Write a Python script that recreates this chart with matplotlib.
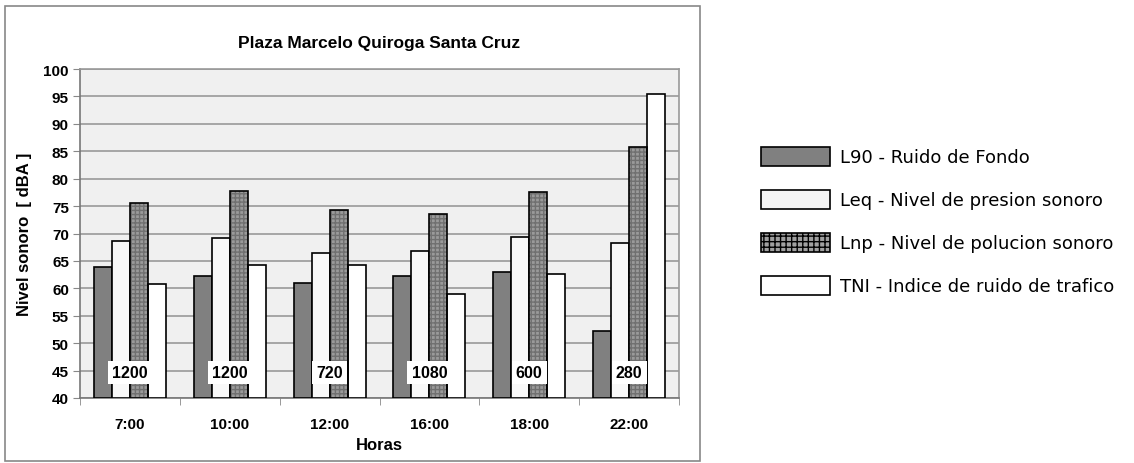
import numpy as np
import matplotlib
matplotlib.use("Agg")
import matplotlib.pyplot as plt
from matplotlib.patches import Rectangle, Patch

plt.rcParams['font.family'] = ['Liberation Sans', 'DejaVu Sans']

horas = ['7:00', '10:00', '12:00', '16:00', '18:00', '22:00']
vehiculos = ['1200', '1200', '720', '1080', '600', '280']
l90 = [63.8, 62.2, 61.0, 62.2, 63.0, 52.3]
leq = [68.7, 69.2, 66.5, 66.8, 69.3, 68.2]
lnp = [75.5, 77.8, 74.2, 73.5, 77.5, 85.8]
tni = [60.8, 64.2, 64.2, 59.0, 62.7, 95.5]

labels = ['L90 - Ruido de Fondo', 'Leq - Nivel de presion sonoro',
          'Lnp - Nivel de polucion sonoro', 'TNI - Indice de ruido de trafico']

fig = plt.figure(figsize=(11.34, 4.64), dpi=100)
fig.patches.append(Rectangle((5 / 1134, 2 / 464), 695 / 1134, 455 / 464,
                             transform=fig.transFigure, fill=False,
                             edgecolor='#888888', linewidth=1.2))

ax = fig.add_axes([80 / 1134, 1 - 399 / 464, 599 / 1134, 329 / 464])
ax.set_facecolor('#f0f0f0')

x = np.arange(len(horas))
w = 0.18
offs = np.array([-1.5, -0.5, 0.5, 1.5]) * w

ax.bar(x + offs[0], np.array(l90) - 40, w, bottom=40, color='#808080',
       edgecolor='black', linewidth=1.2, zorder=3)
ax.bar(x + offs[1], np.array(leq) - 40, w, bottom=40, color='#f8f8f8',
       edgecolor='black', linewidth=1.2, zorder=3)
# Lnp: hatch drawn in grey, then outline in black
ax.bar(x + offs[2], np.array(lnp) - 40, w, bottom=40, color='#9a9a9a',
       edgecolor='#707070', hatch='++++', linewidth=0, zorder=3)
ax.bar(x + offs[2], np.array(lnp) - 40, w, bottom=40, fill=False,
       edgecolor='black', linewidth=1.2, zorder=4)
ax.bar(x + offs[3], np.array(tni) - 40, w, bottom=40, color='white',
       edgecolor='black', linewidth=1.2, zorder=3)

for xi, v in zip(x, vehiculos):
    ax.text(xi, 44.7, v, ha='center', va='center', fontsize=11.5,
            fontweight='bold', zorder=5,
            bbox=dict(facecolor='white', edgecolor='none', pad=3))

ax.set_ylim(40, 100)
ax.set_yticks(range(40, 101, 5))
ax.set_xlim(-0.5, len(horas) - 0.5)
ax.set_xticks(x)
ax.set_xticklabels(horas)
ax.set_xticks(np.arange(-0.5, len(horas), 1), minor=True)
ax.tick_params(axis='x', which='major', length=0, pad=14)
ax.tick_params(axis='x', which='minor', length=5, color='#888888')
ax.tick_params(axis='y', length=5, color='#888888', pad=3)
for t in ax.get_xticklabels() + ax.get_yticklabels():
    t.set_fontweight('bold')
    t.set_fontsize(11)

ax.grid(axis='y', color='#999999', linewidth=1.2, zorder=0)
ax.set_axisbelow(True)
for s in ax.spines.values():
    s.set_color('#999999')
    s.set_linewidth(1.2)
ax.spines['left'].set_color('#777777')
ax.spines['bottom'].set_color('#777777')

ax.set_title('Plaza Marcelo Quiroga Santa Cruz', fontsize=12.5,
             fontweight='bold', pad=16)
ax.set_ylabel('Nivel sonoro  [ dBA ]', fontsize=12, fontweight='bold',
              labelpad=8)
ax.set_xlabel('Horas', fontsize=12, fontweight='bold', labelpad=4)

handles = [Patch(facecolor='#808080', edgecolor='black', linewidth=1.2),
           Patch(facecolor='#f4f4f4', edgecolor='black', linewidth=1.2),
           Patch(facecolor='#a0a0a0', edgecolor='black', hatch='+++', linewidth=1.2),
           Patch(facecolor='white', edgecolor='black', linewidth=1.2)]
fig.legend(handles, labels, loc='upper left',
           bbox_to_anchor=(761 / 1134, 1 - 148 / 464), frameon=False,
           prop={'family': 'DejaVu Sans', 'size': 13},
           handlelength=3.82, handleheight=1.22,
           labelspacing=1.3, handletextpad=0.55, borderpad=0,
           borderaxespad=0)

fig.savefig('out.png', dpi=100)
